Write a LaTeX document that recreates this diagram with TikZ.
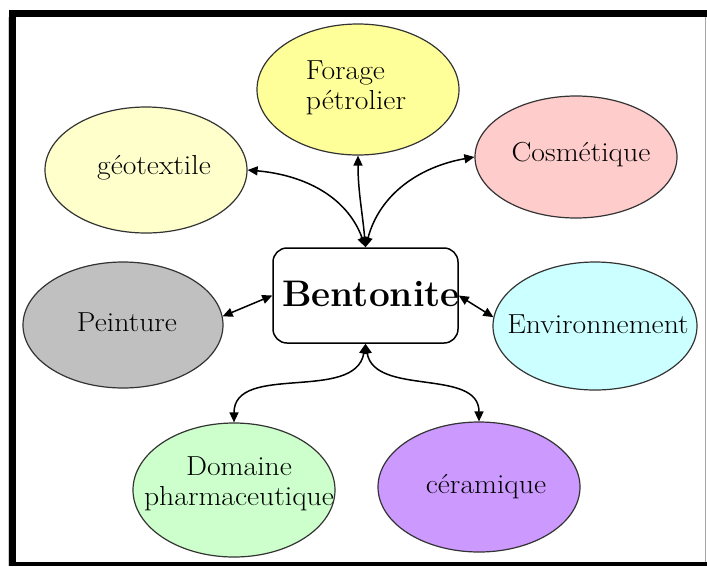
\documentclass[tikz,border=0pt]{standalone}
\usepackage{fontspec}
\newfontfamily\wideLM[FakeStretch=1.08]{Latin Modern Roman}
\usetikzlibrary{shapes.geometric,arrows.meta}
\definecolor{cForage}{HTML}{FFFF99}
\definecolor{cGeo}{HTML}{FFFFCC}
\definecolor{cCos}{HTML}{FFCCCC}
\definecolor{cPei}{HTML}{C0C0C0}
\definecolor{cEnv}{HTML}{CCFFFF}
\definecolor{cDom}{HTML}{CCFFCC}
\definecolor{cCer}{HTML}{CC99FF}
\definecolor{cEdge}{HTML}{333333}
\begin{document}
\begin{tikzpicture}[x=1pt,y=-1pt,
  field/.style={ellipse, draw=cEdge, line width=1.2pt, inner sep=0pt,
    minimum width=202pt, minimum height=128pt},
  lbl/.style={inner sep=0pt, align=center,
    font=\wideLM\fontsize{27.5}{29.5}\selectfont},
  hub/.style={rectangle, rounded corners=14pt, draw=black, line width=1.5pt,
    minimum width=185pt, minimum height=95pt, inner sep=0pt, fill=white},
  hublbl/.style={inner sep=0pt, font=\fontsize{37}{40}\selectfont\bfseries},
  conn/.style={draw=black, line width=1.5pt,
    {Triangle[length=10pt,width=9pt]}-{Triangle[length=10pt,width=9pt]}}]
\useasboundingbox (0,0) rectangle (707,566);
% frame
\fill[white] (0,0) rectangle (707,566);
\fill[black] (9,10) rectangle (707,17);
\fill[black] (9,10) rectangle (16,566);
\fill[black] (9,562) rectangle (707,566);
\draw[gray!70, line width=1pt] (705,17) -- (705,562);
\draw[gray!40, line width=1pt] (8,17) -- (8,566);
% fields
\node[field, fill=cForage, minimum height=131pt] (for) at (358,89.5) {};
\node[field, fill=cGeo, minimum height=126pt] (geo) at (146,170) {};
\node[field, fill=cCos, minimum height=122pt] (cos) at (576,157) {};
\node[field, fill=cPei, minimum width=200pt, minimum height=126pt] (pei) at (123,325) {};
\node[field, fill=cEnv, minimum width=204pt] (env) at (595,326) {};
\node[field, fill=cDom, minimum height=134pt] (dom) at (234,490) {};
\node[field, fill=cCer, minimum height=130pt] (cer) at (479,487) {};
% labels
\node[lbl, align=left] (forT) at (356,88) {Forage\\pétrolier};
\node[lbl] (geoT) at (154,168) {géotextile};
\node[lbl] (cosT) at (581,155) {Cosmétique};
\node[lbl] (peiT) at (127,322) {Peinture};
\node[lbl] (envT) at (598,324) {Environnement};
\node[lbl] (domT) at (239,484) {Domaine\\pharmaceutique};
\node[lbl] (cerT) at (486,487) {céramique};
% hub
\node[hub] (bx) at (365.5,295.5) {};
\node[hublbl] (bxT) at (371,294) {Bentonite};
% connectors
\draw[conn] (bx.north) to[out=110,in=-5] (geo.east);
\draw[conn] (bx.north) to[out=95,in=-90] (for.south);
\draw[conn] (bx.north) to[out=75,in=190] (cos.west);
\draw[conn] (bx.west) -- (pei.5);
\draw[conn] (bx.east) -- (env.175);
\draw[conn] (bx.south) to[out=-100,in=90] (dom.north);
\draw[conn] (bx.south) to[out=-80,in=90] (cer.north);
\end{tikzpicture}
\end{document}
